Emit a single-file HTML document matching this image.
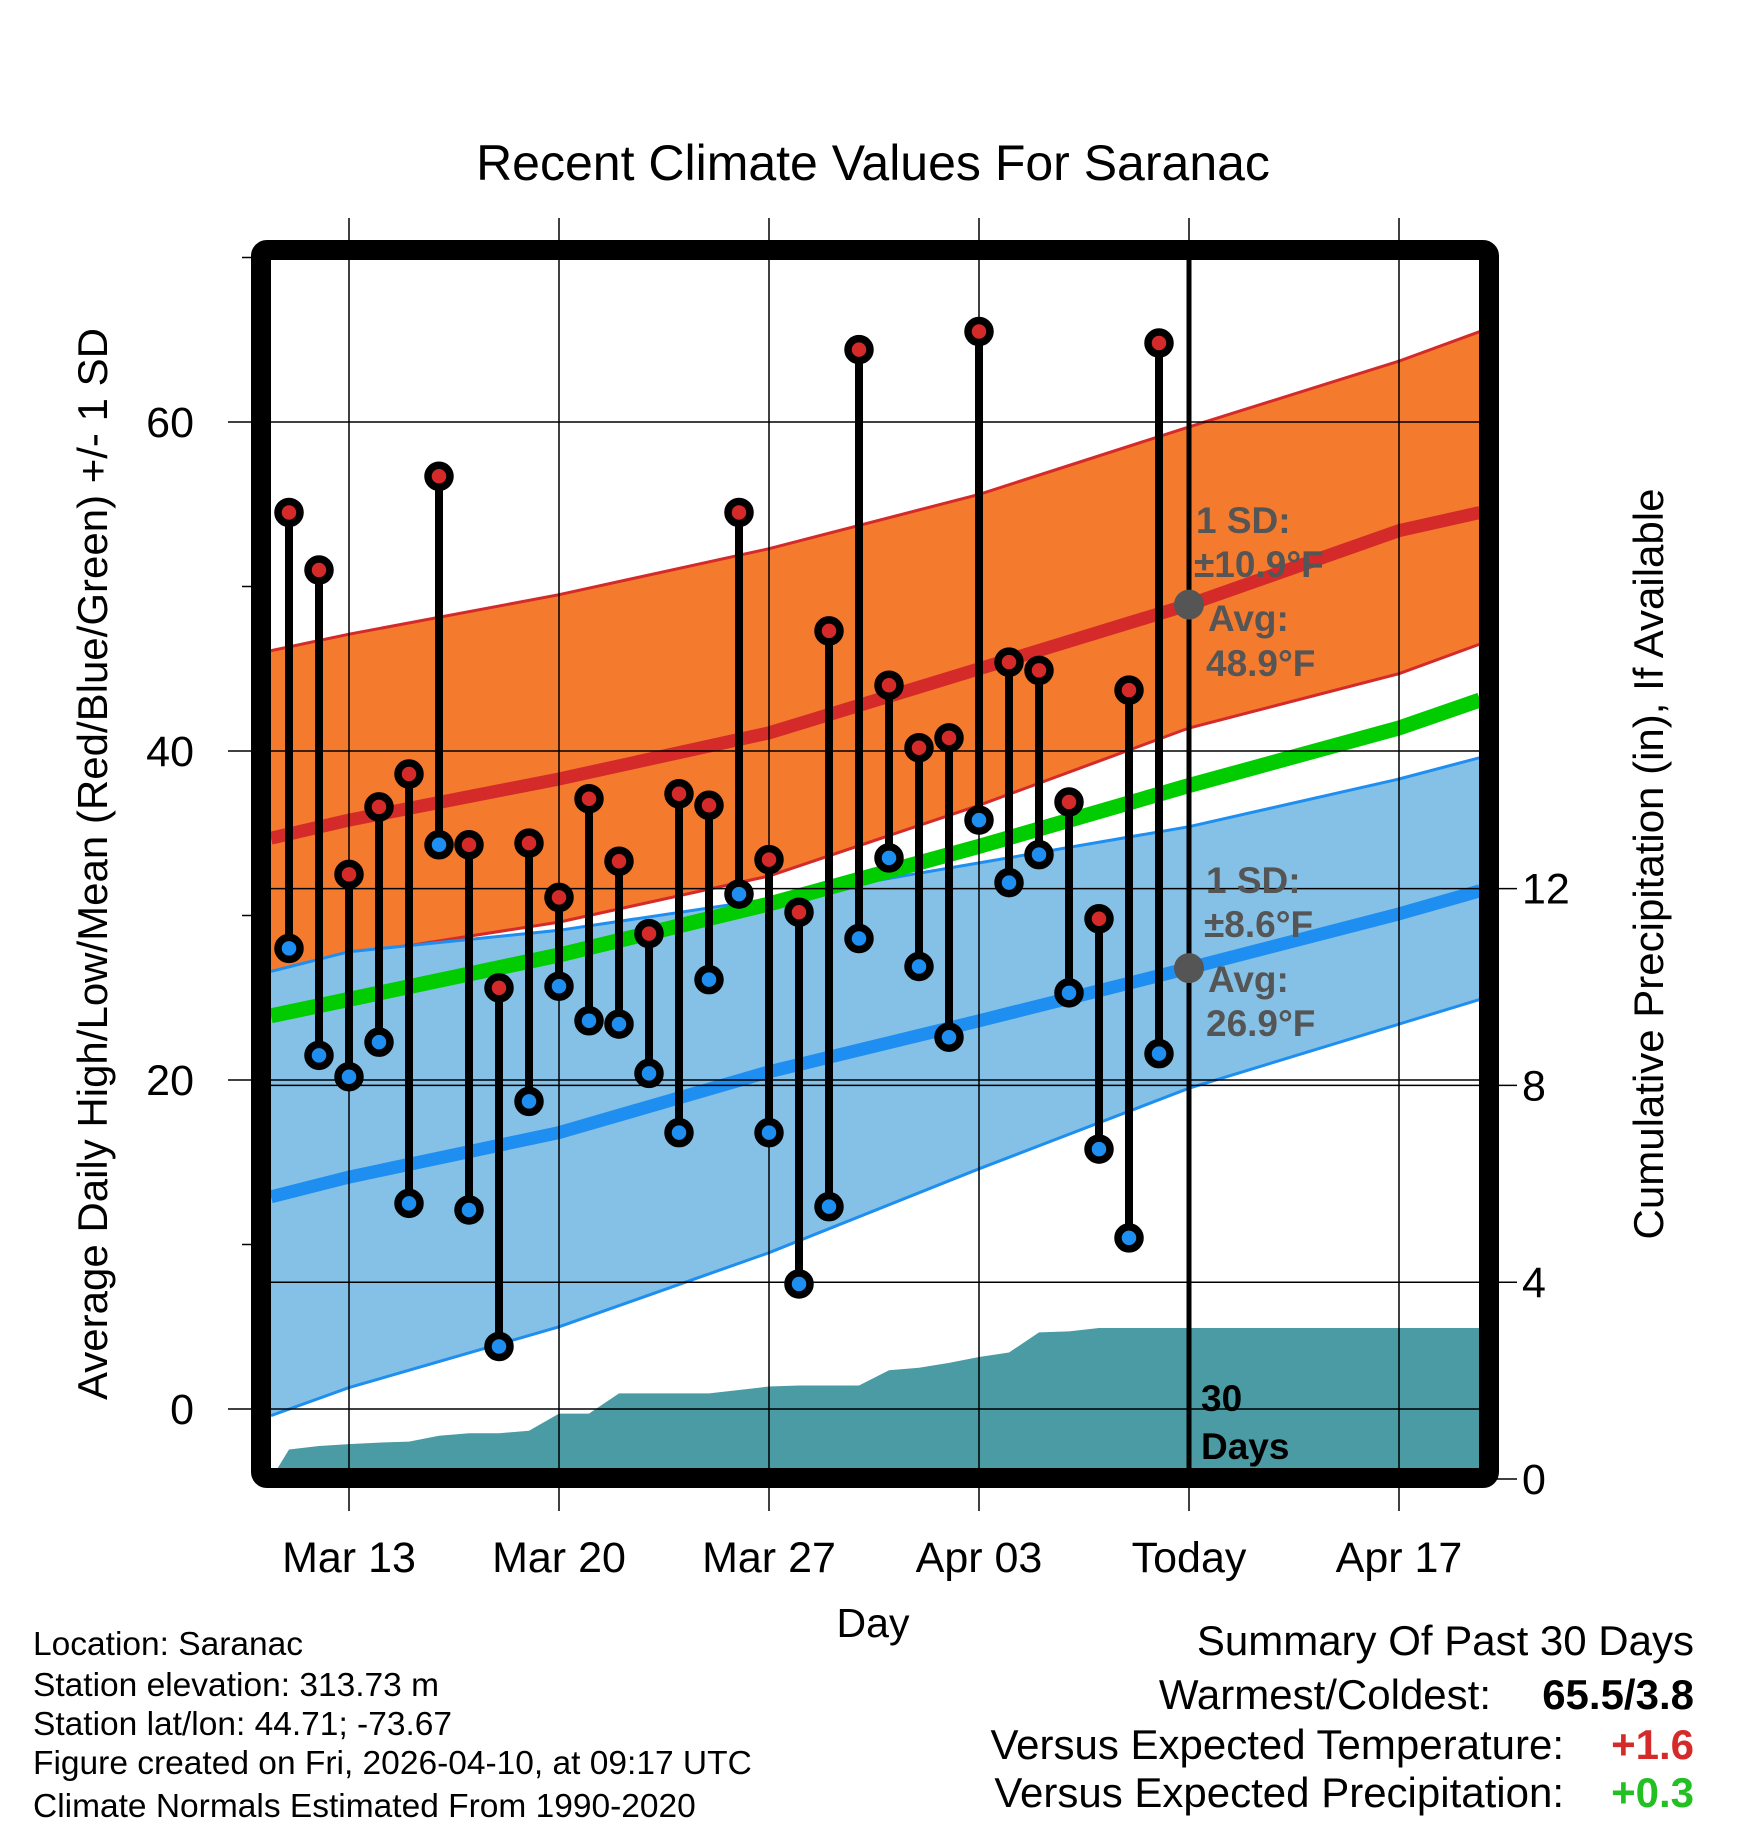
<!DOCTYPE html>
<html><head><meta charset="utf-8"><style>
html,body{margin:0;padding:0;background:#fff}
svg{display:block;font-family:"Liberation Sans",Arial,sans-serif}
</style></head><body>
<svg id="chart" width="1748" height="1828" viewBox="0 0 1748 1828" xmlns="http://www.w3.org/2000/svg">
<text x="873" y="180" font-size="50" text-anchor="middle">Recent Climate Values For Saranac</text>
<g id="plot"></g>
<text transform="translate(107,864) rotate(-90)" font-size="42" text-anchor="middle">Average Daily High/Low/Mean (Red/Blue/Green) +/- 1 SD</text>
<text transform="translate(1663,864) rotate(-90)" font-size="42" text-anchor="middle">Cumulative Precipitation (in), If Available</text>
<text x="873" y="1637" font-size="41" text-anchor="middle">Day</text>
<g font-size="33.5">
<text x="33" y="1655">Location: Saranac</text>
<text x="33" y="1696">Station elevation: 313.73 m</text>
<text x="33" y="1735">Station lat/lon: 44.71; -73.67</text>
<text x="33" y="1774">Figure created on Fri, 2026-04-10, at 09:17 UTC</text>
<text x="33" y="1817">Climate Normals Estimated From 1990-2020</text>
</g>
<g font-size="42">
<text x="1694" y="1655" text-anchor="end">Summary Of Past 30 Days</text>
<text x="1491" y="1709" text-anchor="end">Warmest/Coldest:</text>
<text x="1694" y="1709" text-anchor="end" font-weight="bold">65.5/3.8</text>
<text x="1564" y="1759" text-anchor="end">Versus Expected Temperature:</text>
<text x="1694" y="1759" text-anchor="end" font-weight="bold" fill="#d42a2a">+1.6</text>
<text x="1564" y="1807" text-anchor="end">Versus Expected Precipitation:</text>
<text x="1694" y="1807" text-anchor="end" font-weight="bold" fill="#22c022">+0.3</text>
</g>
</svg>
<script>
// day index: 0 = Mar 13
const obsDays = [-2,-1,0,1,2,3,4,5,6,7,8,9,10,11,12,13,14,15,16,17,18,19,20,21,22,23,24,25,26,27];
const highs = [54.5,51.0,32.5,36.6,38.6,56.7,34.3,25.6,34.4,31.1,37.1,33.3,28.9,37.4,36.7,54.5,33.4,30.2,47.3,64.4,44.0,40.2,40.8,65.5,45.4,44.9,36.9,29.8,43.7,64.8];
const lows = [28.0,21.5,20.2,22.3,12.5,34.3,12.1,3.8,18.7,25.7,23.6,23.4,20.4,16.8,26.1,31.3,16.8,7.6,12.3,28.6,33.5,26.9,22.6,35.8,32.0,33.7,25.3,15.8,10.4,21.6];
const precip = [0.6,0.67,0.71,0.74,0.76,0.88,0.93,0.93,0.98,1.33,1.33,1.74,1.74,1.74,1.74,1.81,1.88,1.9,1.9,1.9,2.21,2.26,2.36,2.48,2.57,2.98,3.0,3.07,3.07,3.07];
const normDays = [-2.6,0,7,14,21,28,35,37.7];
const normHigh = [34.7,35.8,38.3,41.1,45.0,48.9,53.4,54.5];
const normHighUp = [46.1,47.1,49.5,52.3,55.6,59.7,63.7,65.5];
const normHighLo = [26.2,27.6,29.6,32.4,36.7,41.4,44.7,46.5];
const normLow = [12.9,14.1,16.8,20.5,23.6,26.8,30.1,31.5];
const normLowUp = [26.6,27.8,29.1,31.0,33.2,35.4,38.3,39.6];
const normLowLo = [-0.4,1.3,5.0,9.5,14.6,19.5,23.4,24.9];
const normMean = [23.9,24.9,27.6,30.7,34.2,37.9,41.4,43.1];
const xTickDays = [0,7,14,21,28,35];
const xTickLabels = ["Mar 13","Mar 20","Mar 27","Apr 03","Today","Apr 17"];
const yTicks = [0,20,40,60];
const yMinor = [10,30,50,70];
const pTicks = [0,4,8,12];

const NS="http://www.w3.org/2000/svg";
const L=271,R=1479,T=260,B=1468;
const X=d=>349+30*d;
const Y=t=>1409-16.45*t;
const P=p=>1479-49.2*p;
const g=document.getElementById('plot');
function mk(tag,attrs,parent){const e=document.createElementNS(NS,tag);for(const k in attrs)e.setAttribute(k,attrs[k]);(parent||g).appendChild(e);return e;}
function pts(ds,vs){return ds.map((d,i)=>X(d).toFixed(1)+','+Y(vs[i]).toFixed(1));}

const defs=mk('defs',{});
const cp=mk('clipPath',{id:'clip'},defs);mk('rect',{x:L,y:T,width:R-L,height:B-T},cp);
const clipG=mk('g',{'clip-path':'url(#clip)'});

let e=mk('polygon',{points:pts(normDays,normHighUp).concat(pts(normDays,normHighLo).reverse()).join(' '),fill:'#f47a2e'},clipG);

e=mk('polyline',{points:pts(normDays,normHighUp).join(' '),fill:'none',stroke:'#d42a2a','stroke-width':3},clipG);

e=mk('polyline',{points:pts(normDays,normHighLo).join(' '),fill:'none',stroke:'#d42a2a','stroke-width':3},clipG);

e=mk('polygon',{points:pts(normDays,normLowUp).concat(pts(normDays,normLowLo).reverse()).join(' '),fill:'#85c1e6'},clipG);

e=mk('polyline',{points:pts(normDays,normLowUp).join(' '),fill:'none',stroke:'#1e8ff0','stroke-width':3},clipG);

e=mk('polyline',{points:pts(normDays,normLowLo).join(' '),fill:'none',stroke:'#1e8ff0','stroke-width':3},clipG);


let pp=[X(-2.6)+','+P(0)];
obsDays.forEach((d,i)=>pp.push(X(d)+','+P(precip[i])));
pp.push(R+','+P(precip[precip.length-1]));pp.push(R+','+P(0));
e=mk('polygon',{points:pp.join(' '),fill:'#4a9ba3'},clipG);


xTickDays.forEach((d,i)=>{
  e=mk('line',{x1:X(d),x2:X(d),y1:218,y2:1511,stroke:'#000','stroke-width':1.5});
  
  e=mk('text',{x:X(d),y:1572,'font-size':43,'text-anchor':'middle'});e.textContent=xTickLabels[i];
  
});
yTicks.forEach(t=>{
  e=mk('line',{x1:228,x2:R,y1:Y(t),y2:Y(t),stroke:'#000','stroke-width':1.5});
  
  e=mk('text',{x:194,y:Y(t)+15,'font-size':43,'text-anchor':'end'});e.textContent=t;
  
});
yMinor.forEach(t=>{
  e=mk('line',{x1:242,x2:L,y1:Y(t),y2:Y(t),stroke:'#000','stroke-width':1.5});
  
});
pTicks.forEach(p=>{
  e=mk('line',{x1:L,x2:1517,y1:P(p),y2:P(p),stroke:'#000','stroke-width':1.5});
  
  e=mk('text',{x:1522,y:P(p)+15,'font-size':43});e.textContent=p;
  
});

[[normMean,'#00cc00',15,'mean-normal-line'],[normHigh,'#d42a2a',13,'high-normal-line'],[normLow,'#1e8ff0',13,'low-normal-line']].forEach(a=>{
  e=mk('polyline',{points:pts(normDays,a[0]).join(' '),fill:'none',stroke:a[1],'stroke-width':a[2]},clipG);
  
});

e=mk('line',{x1:X(28),x2:X(28),y1:T,y2:B,stroke:'#000','stroke-width':5});

[normHigh[5],normLow[5]].forEach(v=>{
  e=mk('circle',{cx:X(28),cy:Y(v),r:15,fill:'#555'});
  
});

obsDays.forEach((d,i)=>{
  e=mk('line',{x1:X(d),x2:X(d),y1:Y(highs[i]),y2:Y(lows[i]),stroke:'#000','stroke-width':8});
  
  e=mk('circle',{cx:X(d),cy:Y(highs[i]),r:11,fill:'#d42a2a',stroke:'#000','stroke-width':7.5});
  
  e=mk('circle',{cx:X(d),cy:Y(lows[i]),r:11,fill:'#1e8ff0',stroke:'#000','stroke-width':7.5});
  
});

function ann(txt,x,y,col,name){e=mk('text',{x:x,y:y,'font-size':37,'font-weight':'bold',fill:col});e.textContent=txt;
  }
ann('1 SD:',1196,533,'#555','high-sd-label');ann('±10.9°F',1194,577,'#555','high-sd-value');
ann('Avg:',1208,631,'#555','high-avg-label');ann('48.9°F',1206,676,'#555','high-avg-value');
ann('1 SD:',1206,893,'#555','low-sd-label');ann('±8.6°F',1204,937,'#555','low-sd-value');
ann('Avg:',1208,992,'#555','low-avg-label');ann('26.9°F',1206,1036,'#555','low-avg-value');
ann('30',1201,1411,'#000','days-count');ann('Days',1201,1459,'#000','days-label');

e=mk('rect',{x:L-10,y:T-10,width:R-L+20,height:B-T+20,fill:'none',stroke:'#000','stroke-width':20,rx:6});

</script>
</body></html>
